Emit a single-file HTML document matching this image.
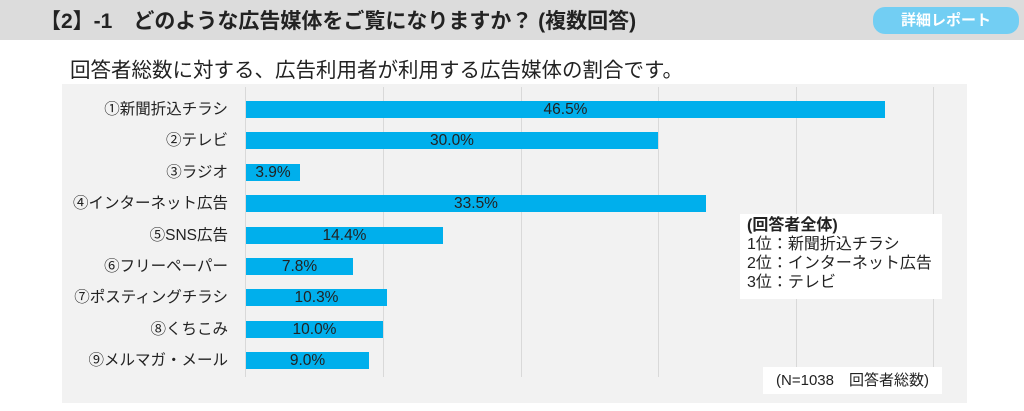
<!DOCTYPE html>
<html><head><meta charset="utf-8"><style>
body{margin:0;width:1024px;height:411px;background:#fff;position:relative;overflow:hidden;font-family:"Liberation Sans","Noto Sans CJK JP",sans-serif;color:#222}
.hdr{position:absolute;left:0;top:0;width:1024px;height:40px;background:#dcdcdc}
.ttl{position:absolute;left:40px;top:5px;font-size:21px;font-weight:bold;white-space:nowrap}
.btn{position:absolute;left:873px;top:7px;width:146px;height:27px;border-radius:12px;background:#72cef3;color:#fff;font-size:15px;font-weight:bold;text-align:center;line-height:27px}
.sub{position:absolute;left:70px;top:53px;font-size:20.5px;white-space:nowrap}
.panel{position:absolute;left:62px;top:84px;width:905px;height:319px;background:#f2f2f2}
.g{position:absolute;top:87px;height:290px;width:1px;background:#d9d9d9}
.lab{position:absolute;right:796px;font-size:15.5px;white-space:nowrap;height:17px;line-height:17px}
.bar{position:absolute;left:246px;height:17px;background:#00afec;font-size:15.5px;text-align:center;line-height:18px;color:#222}
.box{position:absolute;background:#fff;font-size:16px;line-height:19px}
</style></head><body>
<div class="hdr"></div>
<div class="ttl">【2】-1　どのような広告媒体をご覧になりますか？ (複数回答)</div>
<div class="btn">詳細レポート</div>
<div class="sub">回答者総数に対する、広告利用者が利用する広告媒体の割合です。</div>
<div class="panel"></div>
<div class="g" style="left:245px"></div><div class="g" style="left:383px"></div><div class="g" style="left:521px"></div><div class="g" style="left:658px"></div><div class="g" style="left:796px"></div><div class="g" style="left:933px"></div>
<div class="lab" style="top:101px">①新聞折込チラシ</div><div class="bar" style="top:101px;width:639px">46.5%</div>
<div class="lab" style="top:132px">②テレビ</div><div class="bar" style="top:132px;width:412px">30.0%</div>
<div class="lab" style="top:164px">③ラジオ</div><div class="bar" style="top:164px;width:54px">3.9%</div>
<div class="lab" style="top:195px">④インターネット広告</div><div class="bar" style="top:195px;width:460px">33.5%</div>
<div class="lab" style="top:227px">⑤SNS広告</div><div class="bar" style="top:227px;width:197px">14.4%</div>
<div class="lab" style="top:258px">⑥フリーペーパー</div><div class="bar" style="top:258px;width:107px">7.8%</div>
<div class="lab" style="top:289px">⑦ポスティングチラシ</div><div class="bar" style="top:289px;width:141px">10.3%</div>
<div class="lab" style="top:321px">⑧くちこみ</div><div class="bar" style="top:321px;width:137px">10.0%</div>
<div class="lab" style="top:352px">⑨メルマガ・メール</div><div class="bar" style="top:352px;width:123px">9.0%</div>
<div class="box" style="left:740px;top:214px;width:195px;height:78px;padding:2px 0 5px 7px"><b>(回答者全体)</b><br>1位：新聞折込チラシ<br>2位：インターネット広告<br>3位：テレビ</div>
<div class="box" style="left:763px;top:367px;width:179px;height:27px;line-height:27px;text-align:center;font-size:15px">(N=1038　回答者総数)</div>
</body></html>
